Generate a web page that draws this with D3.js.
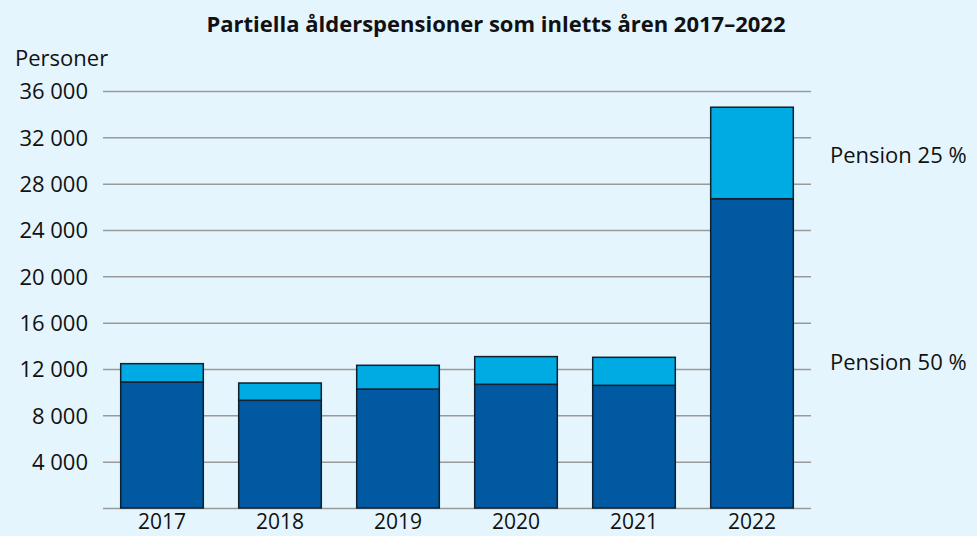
<!DOCTYPE html>
<html>
<head>
<meta charset="utf-8">
<script src="https://cdn.jsdelivr.net/npm/d3@7"></script>
<style>
  body { margin: 0; background: #e5f5fd; }
  svg text { font-family: "Open Sans", sans-serif; fill: #111; }
</style>
</head>
<body>
<div id="chart"></div>
<script>
var years = ["2017", "2018", "2019", "2020", "2021", "2022"];

var pension50 = [10880, 9300, 10270, 10680, 10590, 26700];

var pension25 = [1580, 1490, 2050, 2390, 2420, 7900];

var seriesNames = ["Pension 50 %", "Pension 25 %"];

var yTicks = [4000, 8000, 12000, 16000, 20000, 24000, 28000, 32000, 36000];

var darkBlue = "#0059a1", lightBlue = "#00abe3";

var width = 977, height = 536;

var mLeft = 103, mRight = 811, mTop = 91, mBottom = 508;

var svg = d3.select("#chart").append("svg")
    .attr("width", width)
    .attr("height", height);

svg.append("rect")
    .attr("width", width)
    .attr("height", height)
    .attr("fill", "#e5f5fd");

var x = d3.scaleBand()
    .domain(years)
    .range([mLeft, mRight])
    .paddingInner(0.3)
    .paddingOuter(0.15);

var y = d3.scaleLinear()
    .domain([0, 36000])
    .range([mBottom, mTop]);

var fmt = function(d){ return d3.format(",")(d).replace(/,/g, " "); };

// grid lines + labels
var yAxis = svg.append("g")
    .attr("transform", "translate(" + mLeft + ",0)")
    .call(d3.axisLeft(y).tickValues([0].concat(yTicks)).tickSize(-(mRight - mLeft)).tickFormat(function(d){ return d === 0 ? "" : fmt(d); }));

yAxis.select(".domain").remove();
yAxis.selectAll("line").attr("stroke", "#9a9a9a").attr("stroke-width", 1.5);
yAxis.selectAll("text")
    .attr("x", -15)
    .attr("dy", "0.36em")
    .attr("font-size", "22px")
    .attr("font-family", "Open Sans, sans-serif")
    .attr("fill", "#111");

var stackData = years.map(function(yr, i){
    return { year: yr, p50: pension50[i], p25: pension25[i] };
});

var stack = d3.stack().keys(["p50", "p25"])(stackData);

var colors = { p50: darkBlue, p25: lightBlue };

svg.append("g").selectAll("g")
    .data(stack)
    .join("g")
    .attr("fill", function(d){ return colors[d.key]; })
    .selectAll("rect")
    .data(function(d){ return d; })
    .join("rect")
    .attr("x", function(d){ return x(d.data.year); })
    .attr("y", function(d){ return y(d[1]); })
    .attr("width", x.bandwidth())
    .attr("height", function(d){ return y(d[0]) - y(d[1]); })
    .attr("stroke", "#10202e")
    .attr("stroke-width", 1.5);

// x labels
svg.append("g").selectAll("text")
    .data(years)
    .join("text")
    .attr("x", function(d){ return x(d) + x.bandwidth() / 2; })
    .attr("y", 529)
    .attr("text-anchor", "middle")
    .attr("font-size", "21px")
    .text(function(d){ return d; });

// title
svg.append("text")
    .attr("x", 496)
    .attr("y", 32)
    .attr("text-anchor", "middle")
    .attr("font-size", "22px")
    .attr("font-weight", "bold")
    .text("Partiella ålderspensioner som inletts åren 2017–2022");

svg.append("text")
    .attr("x", 15)
    .attr("y", 66)
    .attr("font-size", "22px")
    .text("Personer");

// series labels to the right of the plot
svg.append("g").selectAll("text")
    .data([
        { name: seriesNames[1], v: 30000 },
        { name: seriesNames[0], v: 12000 }
    ])
    .join("text")
    .attr("x", 830)
    .attr("y", function(d, i){ return y(d.v) + (i === 0 ? 2 : 1); })
    .attr("font-size", "22px")
    .text(function(d){ return d.name; });
</script>
</body>
</html>
